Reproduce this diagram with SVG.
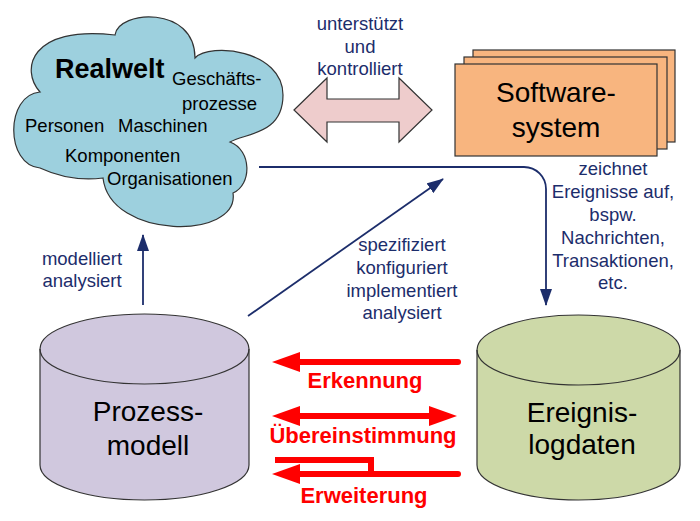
<svg xmlns="http://www.w3.org/2000/svg" width="700" height="521" viewBox="0 0 700 521">
<style>
  .sm { font-family: "Liberation Sans", Arial, sans-serif; font-size: 18.5px; fill: #000; }
  .nv { font-family: "Liberation Sans", Arial, sans-serif; font-size: 18.5px; fill: #1C2D6B; text-anchor: middle; }
  .big { font-family: "Liberation Sans", Arial, sans-serif; font-size: 28px; fill: #000; text-anchor: middle; }
  .red { font-family: "Liberation Sans", Arial, sans-serif; font-size: 22px; font-weight: bold; fill: #FF0000; text-anchor: middle; }
  .nline { fill: none; stroke: #1C2D6B; stroke-width: 1.8; }
  .rline { fill: none; stroke: #FF0000; stroke-width: 6; stroke-linecap: round; stroke-linejoin: miter; }
  .shape { stroke: #333; stroke-width: 1.2; }
</style>
<defs>
  <marker id="nav" markerUnits="userSpaceOnUse" markerWidth="18" markerHeight="12" refX="16" refY="6" orient="auto">
    <path d="M0,0 L17,6 L0,12 Z" fill="#1C2D6B"/>
  </marker>
  <marker id="redh" markerUnits="userSpaceOnUse" markerWidth="30" markerHeight="20" refX="2" refY="10" orient="auto-start-reverse">
    <path d="M0,0 L28,10 L0,20 Z" fill="#FF0000"/>
  </marker>
</defs>

<g id="realwelt">
  <path class="shape" fill="#9DD0DE" d="M115,35 C118,10 195,5 195,58 C210,42 283,50 283,95 C283,135 245,133 230,142 C252,150 252,185 233,193 C240,240 110,240 103,178 Q70,182 40,168 C5,165 5,95 40,92 C20,70 30,25 115,35 Z"/>
  <text x="55" y="78" style="font-family:'Liberation Sans',Arial,sans-serif;font-size:27px;font-weight:bold;fill:#000">Realwelt</text>
  <text class="sm" x="172" y="85">Geschäfts-</text>
  <text class="sm" x="182" y="110">prozesse</text>
  <text class="sm" x="25" y="132">Personen</text>
  <text class="sm" x="118" y="132">Maschinen</text>
  <text class="sm" x="65" y="162">Komponenten</text>
  <text class="sm" x="107" y="185">Organisationen</text>
</g>

<g id="softwaresystem">
  <rect class="shape" fill="#F8B57F" x="473" y="50" width="202" height="92"/>
  <rect class="shape" fill="#F8B57F" x="464" y="57" width="203" height="92"/>
  <rect class="shape" fill="#F8B57F" x="455" y="64" width="202" height="92"/>
  <text class="big" x="556" y="102">Software-</text>
  <text class="big" x="556" y="137">system</text>
</g>

<g id="prozessmodell">
  <path class="shape" fill="#D0C8DE" d="M40,349 A104.5,35 0 0 1 249,349 V465 A104.5,35 0 0 1 40,465 Z"/>
  <path class="shape" fill="none" d="M40,349 A104.5,35 0 0 0 249,349"/>
  <text class="big" x="148" y="421">Prozess-</text>
  <text class="big" x="148" y="455">modell</text>
</g>

<g id="ereignislogdaten">
  <path class="shape" fill="#CDD9A8" d="M477,350 A101.5,35 0 0 1 680,350 V465 A101.5,35 0 0 1 477,465 Z"/>
  <path class="shape" fill="none" d="M477,350 A101.5,35 0 0 0 680,350"/>
  <text class="big" x="582" y="422">Ereignis-</text>
  <text class="big" x="582" y="454">logdaten</text>
</g>

<g id="connectors">
  <path class="shape" fill="#EECCCC" d="M294,110 L327,78 L327,99 L399,99 L399,78 L432,110 L399,142 L399,122 L327,122 L327,142 Z"/>
  <path class="nline" d="M259,167 H524 A22,22 0 0 1 546,189 V305" marker-end="url(#nav)"/>
  <path class="nline" d="M143,305 V235" marker-end="url(#nav)"/>
  <path class="nline" d="M248,316 L443,179" marker-end="url(#nav)"/>
  <path class="rline" d="M458,362 H298" marker-end="url(#redh)"/>
  <path class="rline" d="M298,416 H431" marker-start="url(#redh)" marker-end="url(#redh)"/>
  <path class="rline" d="M458,474 H298" marker-end="url(#redh)"/>
  <path class="rline" style="stroke-linecap:butt" d="M371,474 V460 H275"/>
</g>

<g id="labels">
  <text class="nv" x="360" y="30">unterstützt</text>
  <text class="nv" x="360" y="53">und</text>
  <text class="nv" x="360" y="75">kontrolliert</text>
  <text class="nv" x="613" y="175">zeichnet</text>
  <text class="nv" x="613" y="198">Ereignisse auf,</text>
  <text class="nv" x="613" y="221">bspw.</text>
  <text class="nv" x="613" y="244">Nachrichten,</text>
  <text class="nv" x="613" y="267">Transaktionen,</text>
  <text class="nv" x="613" y="289">etc.</text>
  <text class="nv" x="402" y="251">spezifiziert</text>
  <text class="nv" x="402" y="274">konfiguriert</text>
  <text class="nv" x="402" y="297">implementiert</text>
  <text class="nv" x="402" y="319">analysiert</text>
  <text class="nv" x="82" y="265">modelliert</text>
  <text class="nv" x="82" y="287">analysiert</text>
  <text class="red" x="365" y="388">Erkennung</text>
  <text class="red" x="363" y="443">Übereinstimmung</text>
  <text class="red" x="364" y="503">Erweiterung</text>
</g>
</svg>
